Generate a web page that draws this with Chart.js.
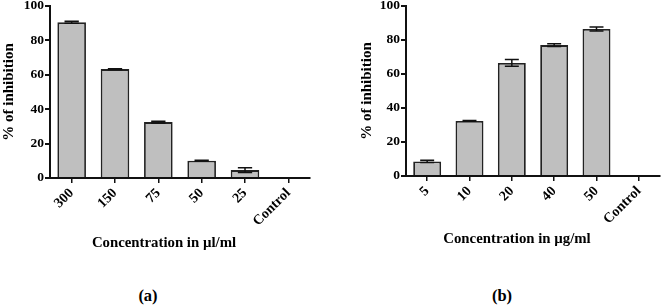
<!DOCTYPE html>
<html>
<head>
<meta charset="utf-8">
<script src="https://cdn.jsdelivr.net/npm/chart.js@4"></script>
<style>
  html, body { margin: 0; padding: 0; background: #fff; }
  body { width: 661px; height: 305px; position: relative; overflow: hidden; font-family: "Liberation Serif", "Times New Roman", serif; }
  canvas { position: absolute; top: 0; }
  .lbl { position: absolute; transform: translate(-50%, -50%); font-weight: bold; white-space: nowrap; color: #000; }
</style>
</head>
<body>
<canvas id="cA" width="330" height="240" style="left:0px"></canvas>
<canvas id="cB" width="331" height="240" style="left:330px"></canvas>
<div class="lbl" id="xtA" style="left:164px; top:242px; font-size:14.8px">Concentration in µl/ml</div>
<div class="lbl" id="xtB" style="left:517px; top:238px; font-size:14.8px">Concentration in µg/ml</div>
<div class="lbl" id="capA" style="left:148px; top:296px; font-size:16.5px">(a)</div>
<div class="lbl" id="capB" style="left:502px; top:296px; font-size:16.5px">(b)</div>
<script>
const catsA = ['300', '150', '75', '50', '25', 'Control'];
const valsA = [90.5, 63.3, 32.5, 10.1, 4.6, 0];
const errA  = [0.6, 0.2, 0.5, 0.2, 1.4, 0];

const catsB = ['5', '10', '20', '40', '50', 'Control'];
const valsB = [8.6, 32.4, 66.5, 77.0, 86.5, 0];
const errB  = [0.6, 0.2, 2.0, 0.8, 1.2, 0];

const yTicks = [0, 20, 40, 60, 80, 100];
const yTitle = '% of inhibition';

const errorBarPlugin = {
  id: 'errorBars',
  afterDatasetsDraw(chart, args, opts) {
    const ctx = chart.ctx;
    const meta = chart.getDatasetMeta(0);
    const ys = chart.scales.y;
    const vals = chart.data.datasets[0].data;
    const errs = opts.errors || [];
    ctx.save();
    ctx.strokeStyle = '#111';
    ctx.lineWidth = 1.5;
    meta.data.forEach((bar, i) => {
      const e = errs[i];
      if (!e) return;
      const v = vals[i];
      const x = bar.x;
      const w = bar.width * 0.5;
      const yt = ys.getPixelForValue(v + e);
      const yb = ys.getPixelForValue(v - e);
      ctx.beginPath();
      ctx.moveTo(x, yt); ctx.lineTo(x, yb);
      ctx.moveTo(x - w / 2, yt); ctx.lineTo(x + w / 2, yt);
      ctx.moveTo(x - w / 2, yb); ctx.lineTo(x + w / 2, yb);
      ctx.stroke();
    });
    ctx.restore();
  }
};

function makeChart(id, cats, vals, errs, cfg) {
  return new Chart(document.getElementById(id), {
    type: 'bar',
    data: {
      labels: cats,
      datasets: [{
        data: vals,
        backgroundColor: '#bfbfbf',
        borderColor: '#222',
        borderWidth: 1.8,
        barPercentage: 0.66,
        categoryPercentage: 1.0
      }]
    },
    options: {
      responsive: false,
      devicePixelRatio: 1,
      animation: false,
      layout: { padding: { left: cfg.padLeft, right: cfg.padRight, top: 6, bottom: 0 } },
      plugins: {
        legend: { display: false },
        tooltip: { enabled: false },
        errorBars: { errors: errs }
      },
      scales: {
        x: {
          grid: { display: true, drawOnChartArea: false, drawTicks: true, tickLength: 5, offset: false, color: '#111', lineWidth: 1.5 },
          border: { display: true, color: '#111', width: 2 },
          ticks: {
            color: '#000',
            minRotation: 45, maxRotation: 45,
            padding: 2,
            font: { family: '"Liberation Serif", serif', weight: 'bold', size: 14 }
          },
          afterFit(s) { s.height = cfg.xHeight; s.paddingLeft = 0; s.paddingRight = 0; }
        },
        y: {
          min: 0, max: 100,
          afterBuildTicks(s) { s.ticks = yTicks.map(v => ({ value: v })); },
          grid: { display: true, drawOnChartArea: false, drawTicks: true, tickLength: 5, color: '#111', lineWidth: 2 },
          border: { display: true, color: '#111', width: 2 },
          ticks: {
            color: '#000',
            padding: 1,
            font: { family: '"Liberation Serif", serif', weight: 'bold', size: 13.5 }
          },
          title: {
            display: true,
            text: yTitle,
            color: '#000',
            padding: 0,
            font: { family: '"Liberation Serif", serif', weight: 'bold', size: 15 }
          },
          afterFit(s) { s.width = cfg.yWidth; s.paddingTop = 0; s.paddingBottom = 0; }
        }
      }
    },
    plugins: [errorBarPlugin]
  });
}

makeChart('cA', catsA, valsA, errA, { padLeft: 0, padRight: 20, yWidth: 50, xHeight: 62 });
makeChart('cB', catsB, valsB, errB, { padLeft: 28, padRight: 1, yWidth: 48, xHeight: 64 });
</script>
</body>
</html>
